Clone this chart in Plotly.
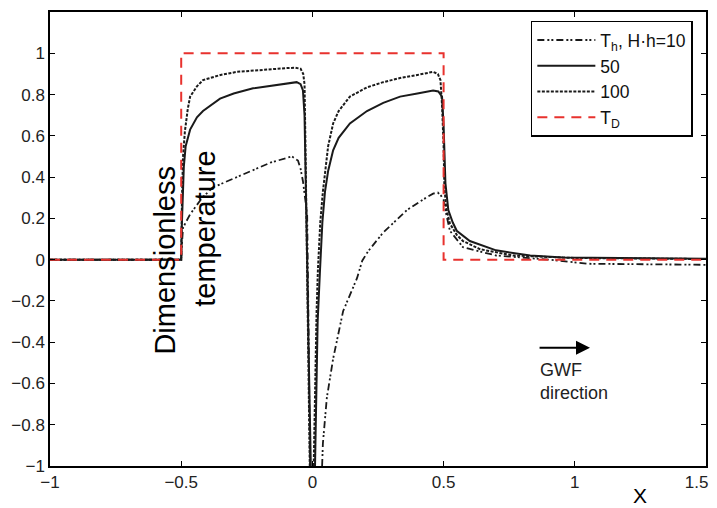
import plotly.graph_objects as go

# ---- data ----
# H*h = 10 (dash-dot-dot)
x10 = [-1.0, -0.5, -0.497, -0.493, -0.466, -0.42, -0.379, -0.287, -0.2, -0.16, -0.078, -0.055,
       -0.045, -0.036, -0.02, -0.017, -0.014, -0.011, -0.009,
       None,
       0.037, 0.04, 0.055, 0.079, 0.117, 0.17, 0.19, 0.212, 0.269, 0.36, 0.42, 0.46, 0.478, 0.49,
       0.5, 0.505, 0.524, 0.574, 0.7, 0.9, 1.05, 1.5]
y10 = [0.0, 0.0, 0.08, 0.155, 0.22, 0.3, 0.35, 0.40, 0.445, 0.47, 0.50, 0.48,
       0.44, 0.38, 0.22, 0.0, -0.4, -0.8, -1.0,
       None,
       -1.0, -0.89, -0.67, -0.48, -0.25, -0.09, -0.005, 0.04, 0.13, 0.24, 0.29, 0.32, 0.325, 0.31,
       0.29, 0.25, 0.14, 0.06, 0.02, 0.0, -0.02, -0.025]

# H*h = 50 (solid)
x50 = [-1.0, -0.5, -0.498, -0.495, -0.49, -0.483, -0.466, -0.44, -0.417, -0.352, -0.3, -0.226,
       -0.15, -0.097, -0.06, -0.045, -0.036, -0.03, -0.025, -0.02, -0.015, -0.01, -0.006,
       None,
       0.01, 0.015, 0.02, 0.029, 0.038, 0.048, 0.06, 0.079, 0.1, 0.143, 0.208, 0.27, 0.334, 0.4,
       0.46, 0.48, 0.494, 0.5, 0.503, 0.507, 0.518, 0.535, 0.55, 0.6, 0.7, 0.83, 0.955, 1.2, 1.5]
y50 = [0.0, 0.0, 0.15, 0.3, 0.45, 0.55, 0.63, 0.69, 0.72, 0.78, 0.805, 0.83,
       0.845, 0.855, 0.86, 0.85, 0.82, 0.7, 0.4, 0.0, -0.4, -0.75, -1.0,
       None,
       -1.0, -0.6, -0.3, -0.05, 0.18, 0.33, 0.43, 0.53, 0.59, 0.66, 0.72, 0.76, 0.79, 0.805,
       0.82, 0.815, 0.79, 0.65, 0.45, 0.37, 0.24, 0.18, 0.14, 0.09, 0.045, 0.02, 0.01, 0.006, 0.004]

# H*h = 100 (dotted)
x100 = [-1.0, -0.5, -0.497, -0.493, -0.486, -0.475, -0.466, -0.44, -0.417, -0.35, -0.287, -0.2,
        -0.16, -0.1, -0.066, -0.045, -0.035, -0.03, -0.027, -0.024, -0.02, -0.016, -0.012, -0.01,
        None,
        0.005, 0.01, 0.016, 0.021, 0.03, 0.04, 0.048, 0.06, 0.079, 0.1, 0.143, 0.208, 0.27, 0.334,
        0.4, 0.46, 0.478, 0.488, 0.494, 0.5, 0.503, 0.51, 0.524, 0.55, 0.574, 0.64, 0.765, 1.0, 1.5]
y100 = [0.0, 0.0, 0.3, 0.5, 0.62, 0.73, 0.79, 0.84, 0.87, 0.895, 0.91, 0.92,
        0.922, 0.928, 0.93, 0.925, 0.9, 0.85, 0.6, 0.3, 0.0, -0.4, -0.8, -1.0,
        None,
        -1.0, -0.6, -0.25, -0.05, 0.18, 0.33, 0.42, 0.55, 0.66, 0.72, 0.79, 0.835, 0.86, 0.88,
        0.895, 0.91, 0.9, 0.87, 0.75, 0.55, 0.35, 0.25, 0.175, 0.12, 0.09, 0.05, 0.02, 0.008, 0.003]

# T_D (red dashed step)
xD = [-1.0, -0.5, -0.5, 0.5, 0.5, 1.5]
yD = [0.0, 0.0, 1.0, 1.0, 0.0, 0.0]

xticks = [-1, -0.5, 0, 0.5, 1, 1.5]
# last label padded so it sits inside the window edge as in the reference
xticklabels = ["\u22121", "\u22120.5", "0", "0.5", "1", "1.5\u00a0\u00a0\u00a0\u00a0"]
yticks = [-1, -0.8, -0.6, -0.4, -0.2, 0, 0.2, 0.4, 0.6, 0.8, 1]

FONT = "Liberation Sans, Arial, sans-serif"
INK = "#1a1a1a"

fig = go.Figure()
fig.add_trace(go.Scatter(x=x10, y=y10, mode="lines", name="T<sub>h</sub>, H·h=10",
                         line=dict(color=INK, width=1.8, dash="7px,3px,2px,2px,2px,3px")))
fig.add_trace(go.Scatter(x=x50, y=y50, mode="lines", name="50",
                         line=dict(color=INK, width=2)))
fig.add_trace(go.Scatter(x=x100, y=y100, mode="lines", name="100",
                         line=dict(color=INK, width=2, dash="3px,1.5px")))
fig.add_trace(go.Scatter(x=xD, y=yD, mode="lines", name="T<sub>D</sub>",
                         line=dict(color="#e8322e", width=2, dash="10px,7px")))

axis_common = dict(showline=True, linecolor="black", linewidth=1.5, mirror="ticks",
                   ticks="inside", ticklen=5, tickcolor="black", tickwidth=1.2,
                   showgrid=False, zeroline=False, automargin=False,
                   ticklabeloverflow="allow",
                   tickfont=dict(family=FONT, size=17, color="#222"))

# the page body adds an 8px offset; margins compensate so the plot sits as in the reference
fig.update_layout(
    width=717, height=500,
    margin=dict(l=42, r=19, t=4, b=42),
    paper_bgcolor="white", plot_bgcolor="white",
    showlegend=True,
    legend=dict(x=0.733, y=0.981, xanchor="left", yanchor="top",
                bgcolor="white", bordercolor="black", borderwidth=1.5,
                font=dict(family=FONT, size=17.5, color="#111"),
                itemwidth=58, tracegroupgap=0),
    xaxis=dict(range=[-1, 1.5], tickvals=xticks, ticktext=xticklabels, **axis_common),
    yaxis=dict(range=[-1, 1.2], tickvals=yticks, **axis_common),
)

# Axis labels placed as in the reference
fig.add_annotation(x=-0.562, y=0.0, xref="x", yref="y", text="Dimensionless",
                   textangle=-90, showarrow=False, xanchor="center", yanchor="middle",
                   font=dict(family=FONT, size=29, color="black"))
fig.add_annotation(x=-0.409, y=0.15, xref="x", yref="y", text="temperature",
                   textangle=-90, showarrow=False, xanchor="center", yanchor="middle",
                   font=dict(family=FONT, size=29, color="black"))
fig.add_annotation(x=1.248, y=-0.066, xref="x", yref="paper", text="X",
                   showarrow=False, xanchor="center", yanchor="middle",
                   font=dict(family=FONT, size=21, color="black"))

# GWF direction arrow and text
fig.add_annotation(x=1.058, y=-0.427, ax=0.86, ay=-0.427, xref="x", yref="y",
                   axref="x", ayref="y", text="", showarrow=True,
                   arrowhead=2, arrowsize=1.4, arrowwidth=2, arrowcolor="black")
fig.add_annotation(x=0.86, y=-0.59, xref="x", yref="y", text="GWF<br>direction",
                   showarrow=False, xanchor="left", yanchor="middle", align="left",
                   font=dict(family=FONT, size=18, color="#222"))

fig.write_html("out.html")
